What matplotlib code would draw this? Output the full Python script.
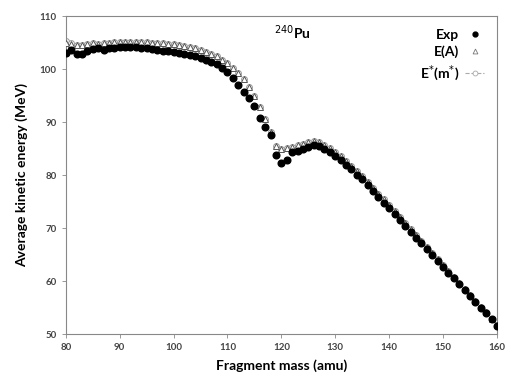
import numpy as np
import matplotlib
matplotlib.use("Agg")
import matplotlib.pyplot as plt

plt.rcParams['font.family'] = ['Lato', 'DejaVu Sans']

# fragment mass (amu), one point per mass number 80..160
mass = list(range(80, 161))

exp_tke = [103.1, 103.6, 102.9, 102.9, 103.4, 103.8, 103.9, 103.6, 103.9, 104.0,
           104.1, 104.2, 104.2, 104.1, 104.0, 104.0, 103.8, 103.7, 103.5, 103.4,
           103.3, 103.1, 102.9, 102.6, 102.4, 102.1, 101.8, 101.4, 100.9, 100.3,
           99.5, 98.3, 97.0, 95.7, 94.6, 93.0, 90.8, 89.1, 87.5, 83.8,
           82.2, 82.8, 84.4, 84.6, 84.9, 85.3, 85.6, 85.4, 84.9, 84.4,
           83.6, 82.9, 82.0, 81.1, 80.1, 79.2, 78.1, 77.0, 75.9, 74.8,
           73.7, 72.6, 71.5, 70.4, 69.3, 68.2, 67.1, 66.0, 64.9, 63.8,
           62.7, 61.6, 60.5, 59.4, 58.3, 57.2, 56.1, 55.0, 53.9, 52.8,
           51.6]

ea_tke = [105.0, 104.7, 104.5, 104.6, 104.8, 104.9, 104.8, 104.9, 105.0, 105.1,
          105.1, 105.1, 105.2, 105.2, 105.1, 105.1, 105.0, 104.9, 104.9, 104.8,
          104.7, 104.5, 104.3, 104.1, 103.9, 103.6, 103.3, 102.9, 102.4, 101.8,
          101.2, 100.3, 99.3, 98.1, 96.6, 94.9, 92.9, 90.6, 88.2, 85.5,
          85.0, 85.1, 85.3, 85.6, 85.9, 86.2, 86.4, 86.2, 85.7, 85.1,
          84.4, 83.6, 82.7, 81.8, 80.8, 79.8, 78.7, 77.6, 76.5, 75.4,
          74.3, 73.2, 72.0, 70.9, 69.8, 68.7, 67.5, 66.4, 65.3, 64.2,
          63.0, 61.9, 60.8, 59.7, 58.5, 57.4, 56.3, 55.2, 54.1, 52.9,
          51.8]

# E*(m*) sits almost on top of E(A)
em_tke = [105.4, 104.9, 104.6, 104.6, 104.8, 104.9, 104.8, 104.9, 105.0, 105.1,
          105.1, 105.1, 105.2, 105.2, 105.1, 105.1, 105.0, 104.9, 104.9, 104.8,
          104.7, 104.5, 104.3, 104.1, 103.9, 103.6, 103.3, 102.9, 102.4, 101.8,
          101.2, 100.3, 99.3, 98.1, 96.6, 94.9, 92.9, 90.6, 88.2, 85.5,
          85.0, 85.1, 85.3, 85.6, 85.9, 86.2, 86.4, 86.2, 85.7, 85.1,
          84.4, 83.6, 82.7, 81.8, 80.8, 79.8, 78.7, 77.6, 76.5, 75.4,
          74.3, 73.2, 72.0, 70.9, 69.8, 68.7, 67.5, 66.4, 65.3, 64.2,
          63.0, 61.9, 60.8, 59.7, 58.5, 57.4, 56.3, 55.2, 54.1, 52.9,
          51.8]

fig = plt.figure(figsize=(5.06, 3.84), dpi=100)
ax = fig.add_axes([0.130, 0.130, 0.852, 0.828])

ax.plot(mass, em_tke, linestyle='none', marker='o', markersize=4.2,
        markerfacecolor='white', markeredgecolor='#999999', markeredgewidth=0.7,
        zorder=2)
ax.plot(mass, ea_tke, linestyle='none', marker='^', markersize=4.8,
        markerfacecolor='white', markeredgecolor='#555555', markeredgewidth=0.7,
        zorder=3)
ax.plot(mass, exp_tke, linestyle='none', marker='o', markersize=4.8,
        color='black', zorder=4)

# legend handles (labels left, markers right)
h1, = ax.plot([], [], linestyle='none', marker='o', markersize=3.5, color='black')
h2, = ax.plot([], [], linestyle='none', marker='^', markersize=3.5,
              markerfacecolor='white', markeredgecolor='#777777', markeredgewidth=0.6)
h3, = ax.plot([], [], linestyle='--', color='#aaaaaa', linewidth=0.8, marker='o',
              markersize=3.5, markerfacecolor='white', markeredgecolor='#aaaaaa',
              markeredgewidth=0.6)
ax.legend([h1, h2, h3], ['Exp', 'E(A)', r'E$^{*}$(m$^{*}$)'], loc='upper right',
          frameon=False, markerfirst=False, handlelength=1.4, handletextpad=0.4,
          labelspacing=0.35, prop={'weight': 'bold', 'size': 10},
          bbox_to_anchor=(1.0, 1.0))

ax.text(122, 106.8, r'$^{240}$Pu', fontsize=10, fontweight='bold', ha='center',
        va='center')

ax.set_xlim(80, 160)
ax.set_ylim(50, 110)
ax.set_xticks(np.arange(80, 161, 10))
ax.set_yticks(np.arange(50, 111, 10))
ax.tick_params(axis='both', labelsize=7, direction='out', length=3, width=0.6,
               colors='#888888', labelcolor='#444444')
for lbl in ax.get_xticklabels() + ax.get_yticklabels():
    lbl.set_fontweight('bold')
for s in ax.spines.values():
    s.set_color('#888888')
    s.set_linewidth(0.8)

ax.set_xlabel('Fragment mass (amu)', fontsize=10, fontweight='bold', labelpad=5)
ax.set_ylabel('Average kinetic energy (MeV)', fontsize=10, fontweight='bold',
              labelpad=8)

fig.savefig('out.png', dpi=100)
